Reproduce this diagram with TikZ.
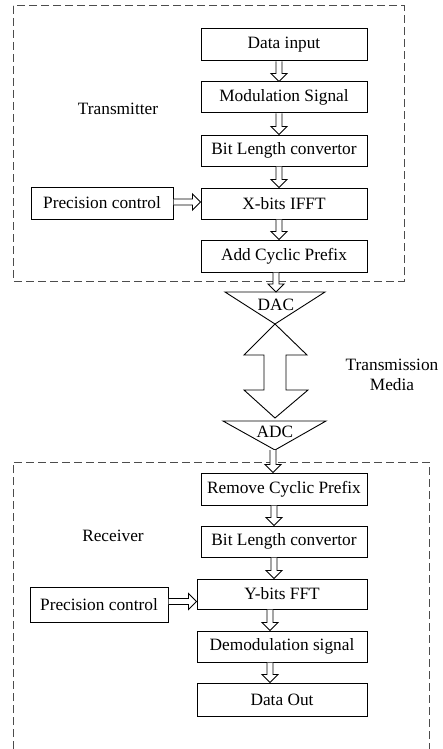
\documentclass[tikz,border=0pt]{standalone}
\usepackage{fontspec}
\setmainfont{Liberation Serif}
\usetikzlibrary{calc}

% hollow block arrow pointing down, from #1 to the level of #2
\newcommand\vflow[2]{%
  \draw[flow] let \p1=#1, \p2=#2 in
    (\x1-3pt,\y1) -- (\x1-3pt,\y2+8pt) -- (\x1-8pt,\y2+8pt) -- (\x1,\y2)
    -- (\x1+8pt,\y2+8pt) -- (\x1+3pt,\y2+8pt) -- (\x1+3pt,\y1);}
% hollow block arrow pointing right, from #1 to the level of #2
\newcommand\hflow[2]{%
  \draw[flow] let \p1=#1, \p2=#2 in
    (\x1,\y1+3pt) -- (\x2-8pt,\y1+3pt) -- (\x2-8pt,\y1+8pt) -- (\x2,\y1)
    -- (\x2-8pt,\y1-8pt) -- (\x2-8pt,\y1-3pt) -- (\x1,\y1-3pt);}

\begin{document}
\begin{tikzpicture}[x=1pt,y=-1pt,
  every node/.style={font=\fontsize{17.3}{20}\selectfont, inner sep=0pt},
  blk/.style={draw, line width=1pt, minimum width=166pt, minimum height=32pt},
  flow/.style={draw, line width=0.9pt, fill=white, line join=miter},
  frame/.style={draw=black!70, line width=1pt, dash pattern=on 8pt off 4pt},
  conv/.style={draw, line width=0.9pt, line join=miter}]
\useasboundingbox (0,0) rectangle (442,749);
\fill[white] (0,0) rectangle (442,749);

% transmitter
\draw[frame] (13,6) rectangle (404,281);
\node at (118,109) {Transmitter};
\node[blk] (din)  at (284,45)    {Data input};
\node[blk, minimum height=31pt] (mod)  at (284,97.5)  {Modulation Signal};
\node[blk, minimum height=31pt] (blc)  at (284,150.5) {Bit Length convertor};
\node[blk, minimum height=31pt] (ifft) at (284,203.5) {X-bits IFFT};
\node[blk] (acp)  at (284,256)   {Add Cyclic Prefix};
\node[blk, minimum width=142pt] (ptx) at (102,203) {Precision control};

\vflow{([xshift=-5pt]din.south)}{(mod.north)}
\vflow{([xshift=-5pt]mod.south)}{(blc.north)}
\vflow{([xshift=-5pt]blc.south)}{(ifft.north)}
\vflow{([xshift=-5pt]ifft.south)}{(acp.north)}
\hflow{([yshift=1pt]ptx.east)}{(ifft.west)}

% converters and channel
\draw[conv] (225,292) coordinate (dacL) -- (325,292) coordinate (dacR)
  -- (275,324) coordinate (dacTip) -- cycle;
\node (dac) at (276,305) {DAC};
\draw[conv] (223,421) coordinate (adcL) -- (326,421) coordinate (adcR)
  -- (275,450) coordinate (adcTip) -- cycle;
\node (adc) at (275,432) {ADC};
\vflow{([xshift=-8pt]acp.south)}{(dacL)}

\draw[flow] let \p1=(dacTip), \p2=(adcL) in
  (\x1,\y1) -- (\x1+32pt,\y1-31pt) -- (\x1+11pt,\y1-31pt) -- (\x1+11pt,\y2+31pt)
  -- (\x1+33pt,\y2+31pt) -- (\x1,\y2+3pt) -- (\x1-31pt,\y2+31pt)
  -- (\x1-11pt,\y2+31pt) -- (\x1-11pt,\y1-31pt) -- (\x1-31pt,\y1-31pt) -- cycle;
\node[align=center] (media) at (392,374.5) {Transmission\\Media};

% receiver
\draw[frame] (13,749) -- (13,462) -- (429,462) -- (429,749);
\node at (113,536) {Receiver};
\node[blk] (rcp)  at (284,489)   {Remove Cyclic Prefix};
\node[blk, minimum height=31pt] (blc2) at (284,541.5) {Bit Length convertor};
\node[blk, minimum width=170pt, minimum height=30pt] (fft) at (282,594) {Y-bits FFT};
\node[blk, minimum width=170pt, minimum height=31pt] (dem) at (282,646.5) {Demodulation signal};
\node[blk, minimum width=170pt, minimum height=33pt] (dout) at (282,699.5) {Data Out};
\node[blk, minimum width=138pt, minimum height=35pt] (prx) at (99,604.5) {Precision control};

\vflow{([xshift=-2pt]adcTip)}{(rcp.north)}
\vflow{([xshift=-10pt]rcp.south)}{(blc2.north)}
\vflow{([xshift=-10pt]blc2.south)}{(fft.north)}
\vflow{([xshift=-12pt]fft.south)}{(dem.north)}
\vflow{([xshift=-12pt]dem.south)}{(dout.north)}
\hflow{([yshift=3pt]prx.east)}{(fft.west)}
\end{tikzpicture}
\end{document}
